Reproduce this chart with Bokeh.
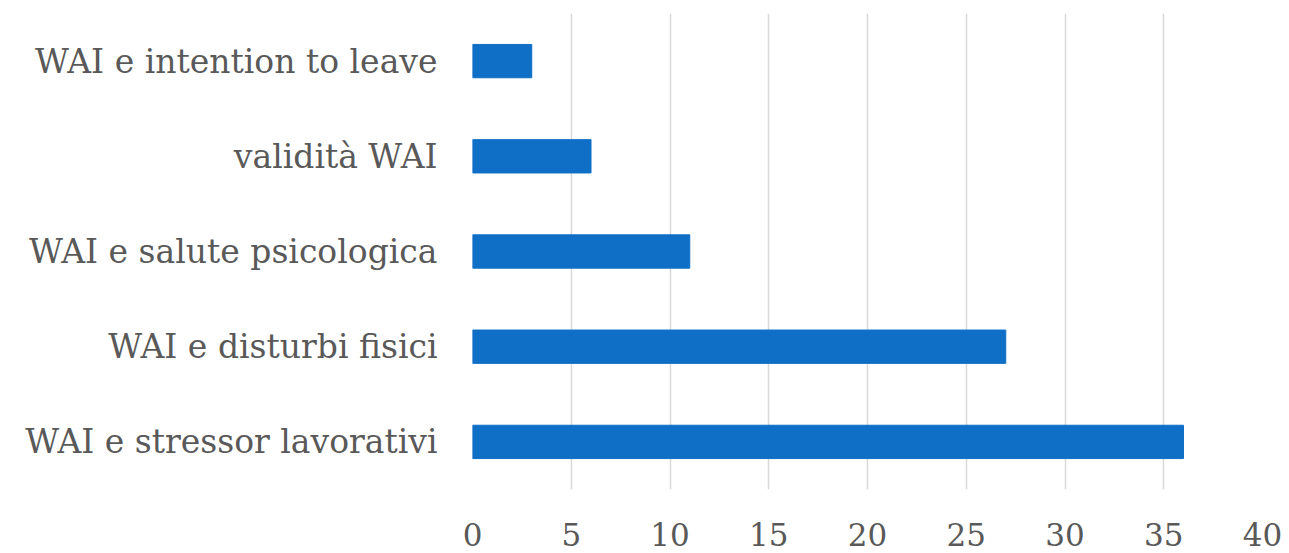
from bokeh.plotting import figure
from bokeh.models import FactorRange, Range1d, FixedTicker
from bokeh.embed import file_html
from bokeh.resources import INLINE

categories = ["WAI e intention to leave", "validità WAI", "WAI e salute psicologica",
              "WAI e disturbi fisici", "WAI e stressor lavorativi"]
values = [3, 6, 11, 27, 36]
x_ticks = [0, 5, 10, 15, 20, 25, 30, 35, 40]

FONT = "DejaVu Serif"
p = figure(width=1289, height=553, output_backend="svg", toolbar_location=None,
           y_range=FactorRange(factors=list(reversed(categories)), range_padding=0),
           x_range=Range1d(0, 40))
p.min_border_left = 472
p.min_border_right = 27
p.min_border_top = 13
p.min_border_bottom = 64
p.outline_line_color = None
p.background_fill_color = "white"
p.border_fill_color = "white"

p.hbar(y=categories, right=values, left=0, height=0.35, color="#0F6FC6")

p.xaxis.ticker = FixedTicker(ticks=x_ticks)
for ax in (p.xaxis, p.yaxis):
    ax.axis_line_color = None
    ax.major_tick_line_color = None
    ax.minor_tick_line_color = None
    ax.major_label_text_font = FONT
    ax.major_label_text_color = "#595959"
p.xaxis.major_label_text_font_size = "31px"
p.yaxis.major_label_text_font_size = "33px"
p.xaxis.major_label_standoff = 27
p.yaxis.major_label_standoff = 29
p.xgrid.grid_line_color = "#d9d9d9"
p.xgrid.grid_line_width = 1.5
p.ygrid.grid_line_color = None

open("out.html", "w").write(file_html(p, INLINE))
